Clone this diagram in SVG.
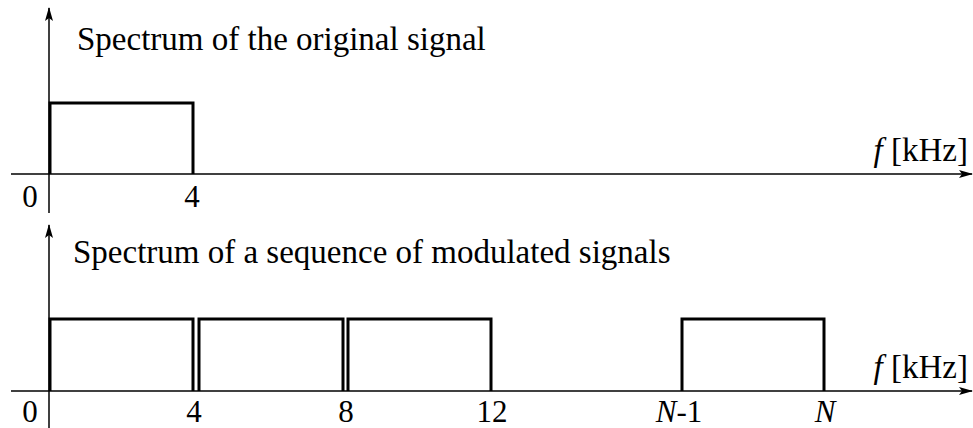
<svg xmlns="http://www.w3.org/2000/svg" width="973" height="428" viewBox="0 0 973 428">
<style>
.ax{stroke:#000;stroke-width:1.5;fill:none}
.box{stroke:#000;stroke-width:3;fill:none;stroke-linejoin:miter}
text{font-family:"Liberation Serif","Times New Roman",serif;fill:#000}
.t{font-size:33px}
.u{font-size:33px;text-anchor:end}
.n{font-size:31px;text-anchor:middle}
.i{font-style:italic}
</style>
<defs>
<marker id="ar" markerWidth="14" markerHeight="8" refX="13" refY="4" orient="auto" markerUnits="userSpaceOnUse">
<path d="M0,0 L14,4 L0,8 L3,4 Z" fill="#000"/>
</marker>
</defs>
<g id="connectors">
<line class="ax" x1="49" y1="213" x2="49" y2="8" marker-end="url(#ar)"/>
<line class="ax" x1="11" y1="174" x2="972" y2="174" marker-end="url(#ar)"/>
<line class="ax" x1="49" y1="428" x2="49" y2="225" marker-end="url(#ar)"/>
<line class="ax" x1="11" y1="391" x2="972" y2="391" marker-end="url(#ar)"/>
</g>
<g id="top-panel">
<text class="t" x="77" y="50">Spectrum of the original signal</text>
<path class="box" d="M50,174 V103 H193 V174"/>
<text class="n" x="30" y="207">0</text>
<text class="n" x="192" y="207">4</text>
<text class="u" x="968" y="161"><tspan class="i">f</tspan> [kHz]</text>
</g>
<g id="bottom-panel">
<text class="t" x="73" y="263">Spectrum of a sequence of modulated signals</text>
<path class="box" d="M50,391 V319 H193 V391"/>
<path class="box" d="M199,391 V319 H343 V391"/>
<path class="box" d="M348,391 V319 H491 V391"/>
<path class="box" d="M682,391 V319 H824 V391"/>
<text class="n" x="30" y="422">0</text>
<text class="n" x="194" y="422">4</text>
<text class="n" x="346" y="422">8</text>
<text class="n" x="492" y="422">12</text>
<text class="n" x="679" y="422"><tspan class="i">N</tspan>-1</text>
<text class="n" x="825" y="422"><tspan class="i">N</tspan></text>
<text class="u" x="968" y="378"><tspan class="i">f</tspan> [kHz]</text>
</g>
</svg>
